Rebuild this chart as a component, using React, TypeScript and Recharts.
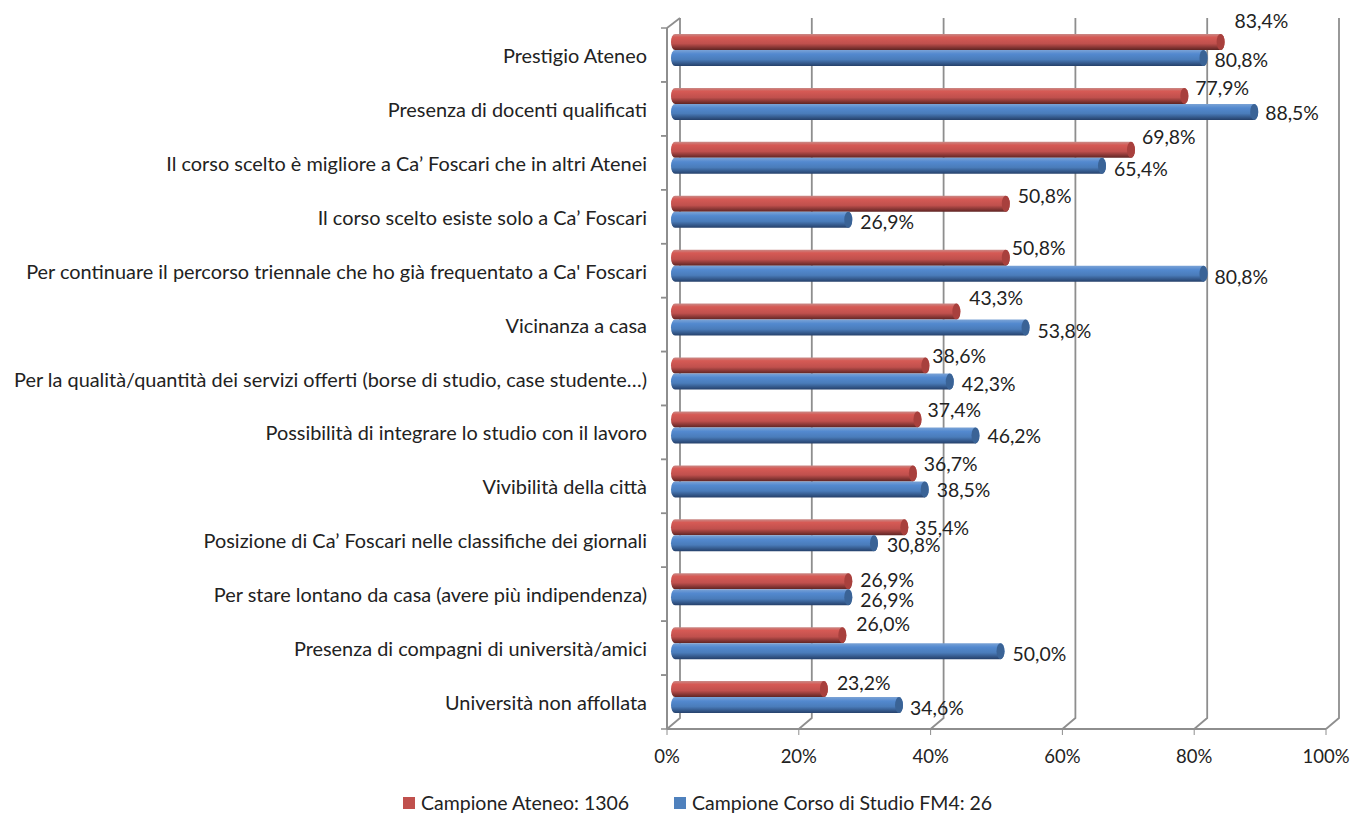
import React from "react";
import { BarChart, Bar, XAxis, YAxis, CartesianGrid, Legend, LabelList } from "recharts";

const categories = [
  "Prestigio Ateneo",
  "Presenza di docenti qualificati",
  "Il corso scelto è migliore a Ca’ Foscari che in altri Atenei",
  "Il corso scelto esiste solo a Ca’ Foscari",
  "Per continuare il percorso triennale che ho già frequentato a Ca' Foscari",
  "Vicinanza a casa",
  "Per la qualità/quantità dei servizi offerti (borse di studio, case studente…)",
  "Possibilità di integrare lo studio con il lavoro",
  "Vivibilità della città",
  "Posizione di Ca’ Foscari nelle classifiche dei giornali",
  "Per stare lontano da casa (avere più indipendenza)",
  "Presenza di compagni di università/amici",
  "Università non affollata",
];
const ateneo = [83.4, 77.9, 69.8, 50.8, 50.8, 43.3, 38.6, 37.4, 36.7, 35.4, 26.9, 26.0, 23.2];
const corso = [80.8, 88.5, 65.4, 26.9, 80.8, 53.8, 42.3, 46.2, 38.5, 30.8, 26.9, 50.0, 34.6];
const xTicks = [0, 20, 40, 60, 80, 100];

// hand placed label offsets from the bar tip, the original chart had them dragged around
const ateneoLabelDx = [10, 7, 7, 8, 2, 9, 3, 6, 7, 7, 8, 10, 9];
const ateneoLabelDy = [-19, -6, -11, -6, -8, -12, -7, -7, -7, 3, 1, -9, -4];
const corsoLabelDx = [7, 7, 8, 8, 7, 8, 8, 8, 8, 9, 8, 8, 7];
const corsoLabelDy = [4, 3, 5, 4, 5, 5, 5, 3, 3, 4, 5, 5, 5];

const rows = categories.map((name, i) => ({ name, ateneo: ateneo[i], corso: corso[i] }));

const FONT = "Lato, sans-serif";
const BAND = 53.9;
const WALL = "#8e8e8e";

const fmt = (v: number) => v.toFixed(1).replace(".", ",") + "%";

function WallLine(props: any) {
  const { x1, y1, y2, index } = props;
  // 3D look: the line stands on the back wall and a short foot comes to the front axis
  return (
    <g>
      <path
        d={`M${x1} ${y2} L${x1 + 13} ${y2 - 11} L${x1 + 13} ${y1 - 10}`}
        fill="none"
        stroke={WALL}
        strokeWidth={1.8}
      />
      {index === 0 && <path d={`M${x1} ${y1} L${x1 + 13} ${y1 - 10}`} fill="none" stroke={WALL} strokeWidth={1.8} />}
    </g>
  );
}

function CatTick({ x, y, payload }: any) {
  return (
    <g>
      <line x1={x + 2} x2={x + 8} y1={y - BAND / 2} y2={y - BAND / 2} stroke={WALL} strokeWidth={1.5} />
      <line x1={x + 2} x2={x + 8} y1={y + BAND / 2} y2={y + BAND / 2} stroke={WALL} strokeWidth={1.5} />
      <text x={x - 12} y={y + 3} textAnchor="end" dominantBaseline="middle" fontSize={19.9} fontFamily={FONT} fill="#222">
        {payload.value}
      </text>
    </g>
  );
}

function Cylinder({ x, y, width, height, grad, cap }: any) {
  const r = 4;
  const left = x + 4;
  const right = x + width + 8;
  const top = y - 5;
  return (
    <g>
      <rect x={left} y={top} width={right - left} height={height} rx={r} ry={height / 2} fill={`url(#${grad})`} />
      <ellipse cx={right - r} cy={top + height / 2} rx={r} ry={height / 2} fill={cap} />
    </g>
  );
}

const barLabel = (dxs: number[], dys: number[]) => (props: any) => {
  const { x, y, width, height, value, index } = props;
  return (
    <text
      x={x + width + 8 + dxs[index]}
      y={y - 5 + height / 2 + dys[index]}
      dominantBaseline="middle"
      fontSize={19.4}
      fontFamily={FONT}
      fill="#222"
    >
      {fmt(value)}
    </text>
  );
};

function LegendBox() {
  const item = (color: string, text: string, left: number) => (
    <div style={{ position: "absolute", left, top: 22, display: "flex", alignItems: "center", whiteSpace: "nowrap" }}>
      <span style={{ width: 12, height: 12, background: color, marginRight: 6, display: "inline-block" }} />
      <span style={{ fontFamily: FONT, fontSize: 19.5, color: "#222" }}>{text}</span>
    </div>
  );
  return (
    <div style={{ position: "relative", height: 26 }}>
      {item("#c0504d", "Campione Ateneo: 1306", 403)}
      {item("#4f81bd", "Campione Corso di Studio FM4: 26", 674)}
    </div>
  );
}

export default function App() {
  return (
    <div style={{ position: "absolute", left: 0, top: 0, width: 1351, height: 814, overflow: "hidden", background: "#fff" }}>
      <BarChart
        width={1351}
        height={814}
        data={rows}
        layout="vertical"
        barSize={16}
        barGap={0}
        barCategoryGap={0}
        margin={{ top: 28, right: 25, bottom: 0, left: 0 }}
      >
        <defs>
          <linearGradient id="redBar" x1="0" y1="0" x2="0" y2="1">
            <stop offset="0" stopColor="#c98a87" />
            <stop offset="0.2" stopColor="#d65a55" />
            <stop offset="0.6" stopColor="#c0504d" />
            <stop offset="1" stopColor="#5e2423" />
          </linearGradient>
          <linearGradient id="blueBar" x1="0" y1="0" x2="0" y2="1">
            <stop offset="0" stopColor="#7ba3d6" />
            <stop offset="0.25" stopColor="#5389cf" />
            <stop offset="0.6" stopColor="#4a7cba" />
            <stop offset="1" stopColor="#25406a" />
          </linearGradient>
        </defs>
        <CartesianGrid horizontal={false} vertical={(p: any) => <WallLine key={p.index} {...p} />} />
        <XAxis
          type="number"
          domain={[0, 100]}
          ticks={xTicks}
          height={40}
          interval={0}
          tickFormatter={(v: number) => v + "%"}
          tick={{ fontSize: 18.5, fontFamily: FONT, fill: "#222" }}
          tickSize={6}
          tickMargin={15}
          stroke={WALL}
          axisLine={{ stroke: WALL, strokeWidth: 2 }}
        />
        <YAxis
          type="category"
          dataKey="name"
          width={667}
          interval={0}
          tick={<CatTick />}
          tickLine={false}
          axisLine={{ stroke: WALL, strokeWidth: 2 }}
        />
        <Legend verticalAlign="bottom" height={45} content={<LegendBox />} />
        <Bar
          dataKey="ateneo"
          name="Campione Ateneo: 1306"
          fill="#c0504d"
          isAnimationActive={false}
          shape={(p: any) => <Cylinder {...p} grad="redBar" cap="#a8403d" />}
        >
          <LabelList dataKey="ateneo" content={barLabel(ateneoLabelDx, ateneoLabelDy)} />
        </Bar>
        <Bar
          dataKey="corso"
          name="Campione Corso di Studio FM4: 26"
          fill="#4f81bd"
          isAnimationActive={false}
          shape={(p: any) => <Cylinder {...p} grad="blueBar" cap="#3a6396" />}
        >
          <LabelList dataKey="corso" content={barLabel(corsoLabelDx, corsoLabelDy)} />
        </Bar>
      </BarChart>
    </div>
  );
}
